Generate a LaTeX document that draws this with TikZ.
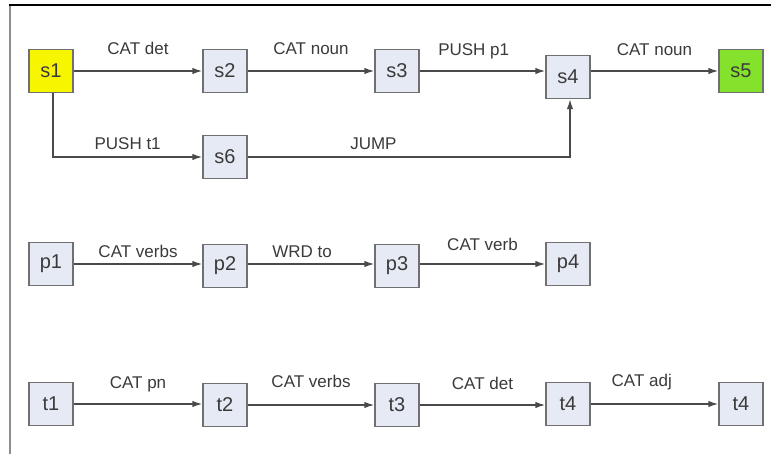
\documentclass[tikz,border=0pt]{standalone}
\usepackage{fontspec}
\setmainfont{Liberation Sans}
\usepackage{tikz}
\usetikzlibrary{arrows.meta, positioning, calc}
\definecolor{boxfill}{HTML}{E6EAF4}
\definecolor{boxline}{HTML}{707070}
\definecolor{start}{HTML}{F7F500}
\definecolor{final}{HTML}{84E22C}
\definecolor{arc}{HTML}{4A4A4A}
\definecolor{ink}{HTML}{3A3A3A}

\begin{document}
\begin{tikzpicture}[x=1pt, y=-1pt,
    state/.style={draw=boxline, line width=1.4pt, fill=boxfill,
      minimum width=44pt, minimum height=43pt, inner sep=0pt,
      text=ink, font=\fontsize{20}{23}\selectfont},
    arc/.style={draw=arc, line width=1.4pt, -{Latex[length=10pt,width=6.5pt]}},
    lbl/.style={font=\fontsize{17}{20}\selectfont, text=ink, inner sep=0pt,
      anchor=base, yshift=16pt},
    low/.style={yshift=-9pt}]
  \useasboundingbox (0,0) rectangle (775,454);
  % frame
  \draw[boxline!80, line width=1.5pt] (10,454) -- (10,5.5);
  \draw[black, line width=2pt] (9,5.5) -- (771,5.5);

  % sentence network
  \node[state, fill=start] (s1) at (51,71) {s1};
  \node[state] (s2) at (225,71) {s2};
  \node[state] (s3) at (397,71) {s3};
  \node[state] (s4) at (568,77) {s4};
  \node[state, fill=final] (s5) at (741,71) {s5};
  \node[state] (s6) at (225,157) {s6};
  \coordinate (bend) at (53,157);
  \coordinate (turn) at (570,157);

  \draw[arc] (s1) -- node[lbl, midway] {CAT det} (s2);
  \draw[arc] (s2) -- node[lbl, midway] {CAT noun} (s3);
  \draw[arc] (s3) -- node[lbl, pos=0.43, yshift=-1pt] {PUSH p1} (s3 -| s4.west);
  \draw[arc] (s4.east |- s5) -- node[lbl, midway, yshift=-1pt] {CAT noun} (s5);
  \draw[arc] (s1.south -| bend) -- (bend) -- node[lbl, low, midway] {PUSH t1} (s6);
  \draw[arc] (s6) -- node[lbl, low, pos=0.39] {JUMP} (turn) -- (s4.south -| turn);

  % p network
  \node[state] (p1) at (51,264) {p1};
  \node[state] (p2) at (225,266) {p2};
  \node[state] (p3) at (397,266) {p3};
  \node[state] (p4) at (568,264) {p4};

  \draw[arc] (p1) -- node[lbl, low, midway] {CAT verbs} (p1 -| p2.west);
  \draw[arc] (p2.east |- p1) -- node[lbl, low, pos=0.43] {WRD to} (p1 -| p3.west);
  \draw[arc] (p3.east |- p4) -- node[lbl, midway, yshift=-2pt] {CAT verb} (p4);

  % t network
  \node[state] (t1) at (51,404) {t1};
  \node[state] (t2) at (225,405) {t2};
  \node[state] (t3) at (397,405) {t3};
  \node[state] (t4) at (568,404) {t4};
  \node[state] (t5) at (741,404) {t4};

  \draw[arc] (t1) -- node[lbl, midway] {CAT pn} (t1 -| t2.west);
  \draw[arc] (t2) -- node[lbl, midway, yshift=2pt] {CAT verbs} (t3);
  \draw[arc] (t3) -- node[lbl, midway] {CAT det} (t3 -| t4.west);
  \draw[arc] (t4) -- node[lbl, pos=0.4, yshift=2pt] {CAT adj} (t5);
\end{tikzpicture}
\end{document}
